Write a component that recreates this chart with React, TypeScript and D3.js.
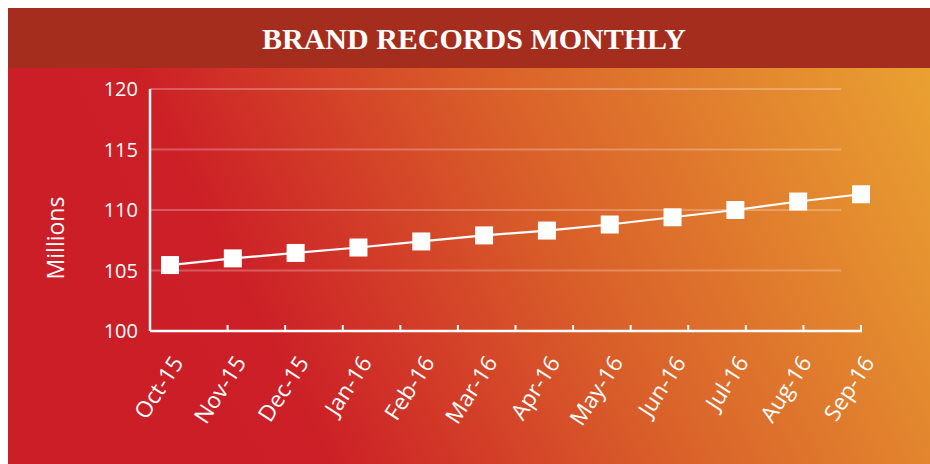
import React from "react";
import * as d3 from "d3";

const months = ["Oct-15","Nov-15","Dec-15","Jan-16","Feb-16","Mar-16","Apr-16","May-16","Jun-16","Jul-16","Aug-16","Sep-16"];
const values = [105.45, 106.0, 106.45, 106.9, 107.4, 107.9, 108.3, 108.8, 109.4, 110.0, 110.7, 111.3];
const yTicks = [100, 105, 110, 115, 120];
const title = "BRAND RECORDS MONTHLY";
const yLabel = "Millions";

const W = 930, H = 464;

export default function App() {
  const x = d3.scalePoint<string>().domain(months).range([170, 861]);
  const xTick = d3.scaleLinear().domain([0, months.length]).range([170, 861]);
  const y = d3.scaleLinear().domain([100, 120]).range([331, 89]);
  const line = d3.line<number>().x((_, i) => x(months[i]) as number).y(d => y(d));
  const tickIdx = d3.range(1, months.length + 1);
  const sans = "'Open Sans', sans-serif";
  return (
    <svg width={W} height={H} style={{ position: "fixed", left: 0, top: 0, display: "block" }}>
      <defs>
        <linearGradient id="bg" gradientUnits="userSpaceOnUse" x1={200} y1={420} x2={930} y2={60}>
          <stop offset="0" stopColor="#cb1e27" />
          <stop offset="0.12" stopColor="#cc2027" />
          <stop offset="0.5" stopColor="#d9602a" />
          <stop offset="1" stopColor="#e9a232" />
        </linearGradient>
      </defs>
      <rect x={0} y={0} width={W} height={H} fill="#fff" />
      <rect x={8} y={68} width={W - 8} height={H - 68} fill="url(#bg)" />
      <rect x={8} y={8} width={W - 8} height={60} fill="#a52d1e" />
      <text x={474} y={49} textAnchor="middle" fill="#fff" fontFamily="'Liberation Serif', serif" fontWeight="bold" fontSize={30}>{title}</text>
      {yTicks.filter(t => t > 100).map(t => (
        <line key={t} x1={150} x2={841} y1={y(t)} y2={y(t)} stroke="#fff" strokeOpacity={0.25} strokeWidth={2} />
      ))}
      {yTicks.map(t => (
        <text key={t} x={138} y={y(t)} dy="0.36em" textAnchor="end" fill="#fff" fontFamily={sans} fontSize={20}>{t}</text>
      ))}
      <text transform={`translate(56,${238}) rotate(-90)`} dy="0.36em" textAnchor="middle" fill="#fff" fontFamily={sans} fontSize={23}>{yLabel}</text>
      <line x1={150} x2={150} y1={y(120)} y2={y(100)} stroke="#fff" strokeWidth={2.5} />
      <line x1={150} x2={862} y1={y(100)} y2={y(100)} stroke="#fff" strokeWidth={2.5} />
      {tickIdx.map(i => (
        <line key={i} x1={xTick(i)} x2={xTick(i)} y1={y(100)} y2={y(100) - 6} stroke="#fff" strokeWidth={2} />
      ))}
      {months.map(m => (
        <text key={m} transform={`translate(${(x(m) as number) + 1},${354}) rotate(-57)`} textAnchor="end" dy="0.7em" fill="#fff" fontFamily={sans} fontSize={22.5}>{m}</text>
      ))}
      <path d={line(values) || ""} fill="none" stroke="#fff" strokeWidth={2.2} />
      {values.map((v, i) => (
        <rect key={i} x={(x(months[i]) as number) - 9} y={y(v) - 9} width={18} height={18} fill="#fff" />
      ))}
    </svg>
  );
}
